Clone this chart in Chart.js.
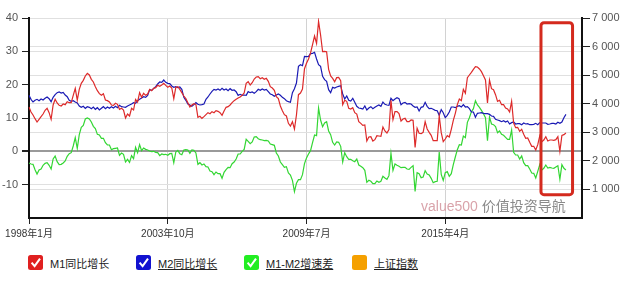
<!DOCTYPE html>
<html>
<head>
<meta charset="utf-8">
<script src="https://cdn.jsdelivr.net/npm/chart.js@4/dist/chart.umd.min.js"></script>
<style>
  body { margin: 0; background: #fff; font-family: "Liberation Sans", Arial, "Noto Sans CJK SC", sans-serif; }
  #wrap { position: relative; width: 640px; height: 285px; overflow: hidden; }
  #c { position: absolute; left: 0; top: 0; }
  #mark { position: absolute; left: 421px; top: 195px; font-size: 14px; color: #8a8a8a; white-space: nowrap; }
  #mark span { color: #d9a3aa; }
  .item { position: absolute; top: 255px; height: 15px; display: flex; align-items: center; font-size: 11px; color: #222; white-space: nowrap; }
  .item svg { margin-right: 7px; }
  .item.u .txt { text-decoration: underline; }
</style>
</head>
<body>
<div id="wrap">
  <canvas id="c" width="640" height="245"></canvas>
  <div id="mark"><span>value500</span> 价值投资导航</div>
  <div id="legend"></div>
</div>
<script>
// monthly, 1998-01 .. 2020-04
const startYear = 1998;
const monthCount = 276;   // axis runs a few months past the last value
const tickLabels = ['1998年1月', '2003年10月', '2009年7月', '2015年4月'];

const m1Growth = [
  13.3, 11.8, 10.9, 9.8, 8.8, 9.6, 10.4, 11.2, 12.3, 12.9, 11.6, 9.6,
  13.9, 15.6, 14.5, 13.8, 13.6, 14.2, 14.0, 14.9, 14.6, 14.6, 16.8, 18.9,
  15.4, 18.6, 20.4, 21.3, 22.6, 23.4, 22.9, 21.6, 20.8, 19.4, 18.2, 17.3,
  16.8, 17.3, 15.4, 15.2, 14.8, 13.9, 13.8, 14.4, 14.1, 12.6, 12.9, 12.4,
  10.0, 11.2, 10.6, 12.9, 12.4, 15.6, 14.8, 17.6, 16.2, 17.4, 16.8, 17.2,
  18.6, 18.2, 18.9, 19.1, 19.8, 19.5, 19.9, 20.4, 19.8, 19.2, 19.6, 19.0,
  15.8, 19.2, 19.4, 18.6, 17.6, 16.6, 15.8, 14.6, 13.3, 13.9, 14.3, 14.1,
  10.2, 10.5, 9.9, 10.4, 11.0, 11.6, 11.3, 11.9, 11.6, 12.2, 12.0, 11.6,
  10.8, 12.1, 13.2, 13.4, 13.9, 14.6, 15.2, 15.6, 16.0, 16.3, 16.8, 17.5,
  20.4, 20.9, 19.9, 20.6, 21.7, 22.3, 22.4, 21.8, 22.1, 21.6, 21.9, 21.0,
  19.4, 19.0, 18.3, 16.4, 15.8, 13.6, 12.2, 11.0, 10.6, 8.4, 7.6, 8.9,
  6.7, 10.9, 17.0, 17.5, 18.7, 24.8, 26.4, 27.7, 29.5, 32.0, 34.6, 32.4,
  39.0, 34.9, 29.9, 30.0, 29.9, 24.6, 22.6, 21.9, 20.9, 22.1, 22.2, 21.2,
  14.0, 15.3, 15.0, 12.9, 12.7, 13.1, 11.6, 11.2, 8.9, 8.4, 7.8, 7.9,
  3.1, 4.3, 4.4, 3.1, 3.5, 4.7, 4.6, 4.5, 7.3, 6.1, 5.5, 6.5,
  15.3, 9.5, 11.9, 11.9, 11.3, 9.1, 9.7, 9.9, 8.9, 8.9, 9.4, 9.3,
  1.2, 6.9, 5.4, 5.3, 5.7, 8.9, 6.7, 5.7, 4.8, 3.2, 3.2, 3.2,
  10.6, 5.6, 2.9, 3.7, 4.7, 4.3, 6.6, 9.3, 11.4, 14.0, 15.7, 15.2,
  18.6, 17.4, 22.1, 22.9, 23.7, 24.6, 25.4, 25.3, 24.7, 23.9, 22.7, 21.4,
  14.5, 21.4, 18.8, 18.5, 17.0, 15.0, 15.3, 14.0, 14.0, 13.0, 12.7, 11.8,
  15.0, 8.5, 7.1, 7.2, 6.0, 6.6, 5.1, 3.9, 4.0, 2.7, 1.5, 1.5,
  0.4, 2.0, 4.6, 2.9, 3.4, 4.4, 3.1, 3.4, 3.4, 3.3, 3.5, 4.4,
  0.0, 4.8, 5.0, 5.5
];

const m2Growth = [
  16.8, 15.6, 14.8, 15.3, 15.6, 15.2, 15.7, 15.4, 15.9, 16.3, 15.8, 14.9,
  16.2, 17.0, 17.6, 17.8, 17.5, 17.7, 16.9, 16.4, 15.3, 15.0, 15.2, 14.8,
  14.5, 13.6, 13.2, 13.5, 12.9, 13.4, 13.2, 12.8, 13.3, 12.6, 13.1, 12.4,
  12.9, 13.4, 12.8, 13.3, 12.9, 13.4, 13.0, 13.5, 13.1, 13.8, 13.4, 13.3,
  13.2, 13.6, 13.9, 14.2, 14.6, 14.4, 15.2, 15.6, 16.0, 16.4, 16.2, 16.8,
  18.5, 18.3, 18.9, 19.4, 20.2, 20.8, 20.7, 21.4, 20.7, 20.4, 20.3, 19.6,
  19.2, 19.4, 19.1, 19.3, 18.6, 16.2, 15.3, 14.2, 13.9, 13.5, 14.0, 14.6,
  14.1, 13.9, 14.0, 14.2, 15.6, 16.3, 17.2, 18.0, 18.6, 18.4, 18.7, 18.3,
  18.9, 18.4, 18.7, 18.2, 18.8, 18.3, 18.4, 17.9, 16.8, 17.1, 16.8, 16.9,
  16.8, 17.9, 17.6, 17.8, 17.4, 17.9, 18.6, 18.3, 18.7, 18.4, 18.6, 17.9,
  17.2, 17.0, 16.5, 16.9, 17.2, 16.8, 16.2, 15.8, 15.2, 14.9, 14.7, 17.6,
  18.8, 20.5, 25.5, 26.0, 25.7, 28.5, 28.4, 28.5, 29.3, 29.4, 29.7, 27.7,
  26.0, 25.5, 22.5, 21.5, 21.0, 18.5, 17.6, 19.2, 19.0, 19.3, 19.5, 19.7,
  17.2, 15.7, 16.6, 15.3, 15.1, 15.9, 14.7, 13.5, 13.0, 12.9, 12.7, 13.6,
  12.4, 13.0, 13.4, 12.8, 13.2, 13.6, 13.9, 13.5, 14.8, 14.1, 13.9, 13.8,
  15.9, 15.2, 15.7, 16.1, 15.8, 14.0, 14.5, 14.7, 14.2, 14.3, 14.2, 13.6,
  13.2, 13.3, 12.1, 13.2, 13.4, 14.7, 13.5, 12.8, 12.9, 12.6, 12.3, 12.2,
  10.8, 12.5, 11.6, 10.1, 10.8, 11.8, 13.3, 13.3, 13.1, 13.5, 13.7, 13.3,
  14.0, 13.3, 13.4, 12.8, 11.8, 11.8, 10.2, 11.4, 11.5, 11.6, 11.4, 11.3,
  11.3, 11.1, 10.6, 10.5, 9.6, 9.4, 9.2, 8.9, 9.2, 8.8, 9.1, 8.2,
  8.6, 8.8, 8.2, 8.3, 8.3, 8.0, 8.5, 8.2, 8.3, 8.0, 8.0, 8.1,
  8.4, 8.0, 8.6, 8.5, 8.5, 8.5, 8.1, 8.2, 8.4, 8.4, 8.2, 8.7,
  8.4, 8.8, 10.1, 11.1
];

const m1m2Gap = [
  -3.5, -3.8, -3.9, -5.5, -6.8, -5.6, -5.3, -4.2, -3.6, -3.4, -4.2, -5.3,
  -2.3, -1.4, -3.1, -4.0, -3.9, -3.5, -2.9, -1.5, -0.7, -0.4, 1.6, 4.1,
  0.9, 5.0, 7.2, 7.8, 9.7, 10.0, 9.7, 8.8, 7.5, 6.8, 5.1, 4.9,
  3.9, 3.9, 2.6, 1.9, 1.9, 0.5, 0.8, 0.9, 1.0, -1.2, -0.5, -0.9,
  -3.2, -2.4, -3.3, -1.3, -2.2, 1.2, -0.4, 2.0, 0.2, 1.0, 0.6, 0.4,
  0.1, -0.1, 0.0, -0.3, -0.4, -1.3, -0.8, -1.0, -0.9, -1.2, -0.7, -0.6,
  -3.4, -0.2, 0.3, -0.7, -1.0, 0.4, 0.5, 0.4, -0.6, 0.4, 0.3, -0.5,
  -3.9, -3.4, -4.1, -3.8, -4.6, -4.7, -5.9, -6.1, -7.0, -6.2, -6.7, -6.7,
  -8.1, -6.3, -5.5, -4.8, -4.9, -3.7, -3.2, -2.3, -0.8, -0.8, 0.0, 0.6,
  3.6, 3.0, 2.3, 2.8, 4.3, 4.4, 3.8, 3.5, 3.4, 3.2, 3.3, 3.1,
  2.2, 2.0, 1.8, -0.5, -1.4, -3.2, -4.0, -4.8, -4.6, -6.5, -7.1, -8.7,
  -12.1, -9.6, -8.5, -8.5, -7.0, -3.7, -2.0, -0.8, 0.2, 2.6, 4.9, 4.7,
  13.0, 9.4, 7.4, 8.5, 8.9, 6.1, 5.0, 2.7, 1.9, 2.8, 2.7, 1.5,
  -3.2, -0.4, -1.6, -2.4, -2.4, -2.8, -3.1, -2.3, -4.1, -4.5, -4.9, -5.7,
  -9.3, -8.7, -9.0, -9.7, -9.7, -8.9, -9.3, -9.0, -7.5, -8.0, -8.4, -7.3,
  -0.6, -5.7, -3.8, -4.2, -4.5, -4.9, -4.8, -4.8, -5.3, -5.4, -4.8, -4.3,
  -12.0, -6.4, -6.7, -7.9, -7.7, -5.8, -6.8, -7.1, -8.1, -9.4, -9.1, -9.0,
  -0.2, -6.9, -8.7, -6.4, -6.1, -7.5, -6.7, -4.0, -1.7, 0.5, 2.0, 1.9,
  4.6, 4.1, 8.7, 10.1, 11.9, 12.8, 15.2, 13.9, 13.2, 12.3, 11.3, 10.1,
  3.2, 10.3, 8.2, 8.0, 7.4, 5.6, 6.1, 5.1, 4.8, 4.2, 3.6, 3.6,
  6.4, -0.3, -1.1, -1.1, -2.3, -1.4, -3.4, -4.3, -4.3, -5.3, -6.5, -6.6,
  -8.0, -6.0, -4.0, -5.6, -5.1, -4.1, -5.0, -4.8, -5.0, -5.1, -4.7, -4.3,
  -8.4, -4.0, -5.1, -5.6
];

// 上证指数 is switched off in the legend, so nothing of it is drawn
const shIndex = [];

// red highlight frame, in axis units (month index / percent)
const boxRange = { from: 254.6, to: 270.3, top: 38.6, bottom: -13.0 };

const months = [];
for (let k = 0; k < monthCount; k++) {
  months.push((startYear + Math.floor(k / 12)) + '年' + (k % 12 + 1) + '月');
}

const fontFamily = '"Liberation Sans", Arial, "Noto Sans CJK SC", sans-serif';

const highlightBox = {
  id: 'highlightBox',
  afterDatasetsDraw(chart) {
    const { ctx, scales: { x, y } } = chart;
    const l = x.getPixelForValue(boxRange.from);
    const r = x.getPixelForValue(boxRange.to);
    const t = y.getPixelForValue(boxRange.top);
    const b = y.getPixelForValue(boxRange.bottom);
    ctx.save();
    ctx.strokeStyle = '#d42a1e';
    ctx.lineWidth = 3;
    ctx.beginPath();
    ctx.roundRect(l, t, r - l, b - t, 3);
    ctx.stroke();
    ctx.restore();
  }
};

let ctxMoney = document.getElementById('c').getContext('2d');
let chartMoney = new Chart(ctxMoney, {
  type: 'line',
  data: {
    labels: months,
    datasets: [{
      label: 'M1同比增长',
      data: m1Growth,
      borderColor: '#dd2a2a',
      backgroundColor: '#e02020',
      borderWidth: 1.2,
      pointRadius: 0,
      yAxisID: 'y'
    }, {
      label: 'M2同比增长',
      data: m2Growth,
      borderColor: '#1a1ab4',
      backgroundColor: '#1212d0',
      borderWidth: 1.2,
      pointRadius: 0,
      yAxisID: 'y'
    }, {
      label: 'M1-M2增速差',
      data: m1m2Gap,
      borderColor: '#33d633',
      backgroundColor: '#22ee22',
      borderWidth: 1.2,
      pointRadius: 0,
      yAxisID: 'y'
    }, {
      label: '上证指数',
      data: shIndex,
      borderColor: '#f5a000',
      backgroundColor: '#f5a000',
      borderWidth: 1.2,
      pointRadius: 0,
      hidden: true,
      yAxisID: 'y1'
    }]
  },
  options: {
    responsive: false,
    animation: false,
    layout: { padding: { top: 18 } },
    plugins: {
      legend: { display: false },
      tooltip: { enabled: false }
    },
    scales: {
      x: {
        ticks: {
          autoSkip: false,
          maxRotation: 0,
          padding: 4,
          color: '#333',
          font: { size: 10, family: fontFamily },
          callback: function(val, index) {
            const lab = this.getLabelForValue(val);
            return tickLabels.includes(lab) ? lab : null;
          }
        },
        grid: { color: '#d2d2d2', tickColor: '#222', tickLength: 6 },
        border: { color: '#111', width: 2 },
        afterFit: function(scale) { scale.height = 27; }
      },
      y: {
        position: 'left',
        min: -20,
        max: 40,
        ticks: {
          stepSize: 10,
          padding: 4,
          color: '#555',
          font: { size: 11, family: fontFamily },
          callback: function(v) { return v === -20 ? null : v; }
        },
        grid: {
          color: function(c) { return c.tick && c.tick.value === 0 ? '#9a9a9a' : '#e0e0e0'; },
          lineWidth: function(c) { return c.tick && c.tick.value === 0 ? 2 : 1; },
          tickColor: '#222',
          tickLength: 7
        },
        border: { color: '#111', width: 2 },
        afterFit: function(scale) { scale.width = 29; }
      },
      y1: {
        position: 'right',
        min: 0,
        max: 7000,
        ticks: {
          stepSize: 1000,
          padding: 2,
          color: '#555',
          font: { size: 11, family: fontFamily },
          callback: function(v) {
            return v === 0 ? null : String(v).replace(/\B(?=(\d{3})+(?!\d))/g, ' ');
          }
        },
        grid: { color: '#e0e0e0', tickColor: '#222', tickLength: 8 },
        border: { color: '#111', width: 2 },
        afterFit: function(scale) { scale.width = 58; }
      }
    }
  },
  plugins: [highlightBox]
});

// html legend with check boxes, built from the datasets
const legendEl = document.getElementById('legend');
chartMoney.data.datasets.forEach(function(ds, i) {
  const item = document.createElement('div');
  item.className = 'item' + (i > 0 ? ' u' : '');
  item.style.left = (28 + i * 108) + 'px';
  const tick = ds.hidden ? '' : '<path d="M3.6 7.6 L6.6 11.2 L12 3.6" stroke="#fff" stroke-width="2" fill="none"/>';
  item.innerHTML = '<svg width="15" height="15"><rect x="0" y="0" width="15" height="15" rx="2.5" fill="' +
    ds.backgroundColor + '"/>' + tick + '</svg><span class="txt">' + ds.label + '</span>';
  legendEl.appendChild(item);
});
</script>
</body>
</html>
